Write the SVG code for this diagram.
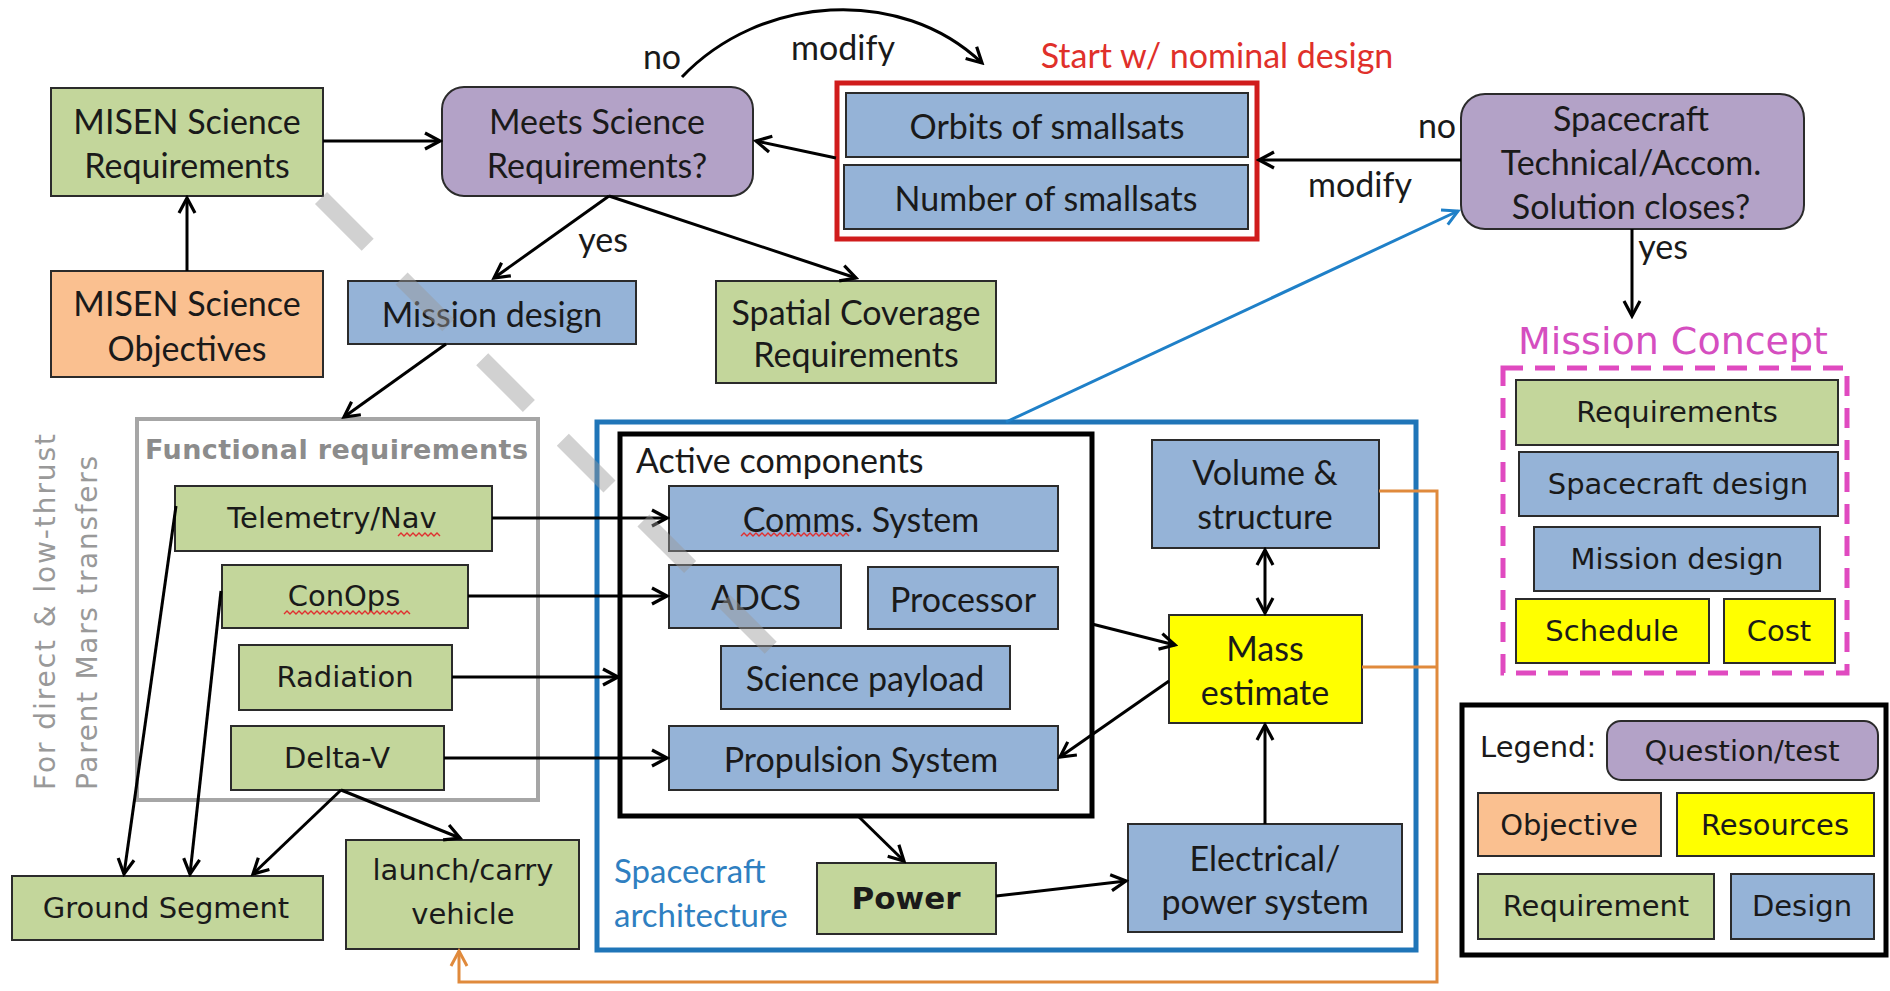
<svg xmlns="http://www.w3.org/2000/svg" width="1890" height="991" viewBox="0 0 1890 991">
<defs>
<marker id="ah" markerUnits="userSpaceOnUse" markerWidth="22" markerHeight="22" viewBox="0 0 22 22" refX="19" refY="11" orient="auto-start-reverse">
<path d="M4,3 L19,11 L4,19" fill="none" stroke="#000" stroke-width="3.2" stroke-linejoin="miter"/>
</marker>
<marker id="ahb" markerUnits="userSpaceOnUse" markerWidth="22" markerHeight="22" viewBox="0 0 22 22" refX="19" refY="11" orient="auto">
<path d="M4,3 L19,11 L4,19" fill="none" stroke="#1f80c8" stroke-width="3" />
</marker>
<marker id="aho" markerUnits="userSpaceOnUse" markerWidth="22" markerHeight="22" viewBox="0 0 22 22" refX="19" refY="11" orient="auto">
<path d="M4,3 L19,11 L4,19" fill="none" stroke="#e08a3c" stroke-width="3" />
</marker>
</defs>
<style>
text{fill:#1a1a1a;text-anchor:middle;dominant-baseline:central}
.c{font-family:Lato,"Liberation Sans",sans-serif;font-size:34px}
.t{font-family:"DejaVu Sans","Liberation Sans",sans-serif;font-size:29px}
.g{fill:#c3d69b;stroke:#2b2b2b;stroke-width:2}
.b{fill:#95b3d7;stroke:#2b2b2b;stroke-width:2}
.p{fill:#b3a2c7;stroke:#2b2b2b;stroke-width:2}
.o{fill:#fac090;stroke:#2b2b2b;stroke-width:2}
.y{fill:#ffff00;stroke:#2b2b2b;stroke-width:2}
.lab{text-anchor:start}
.sq{fill:none;stroke:#e03030;stroke-width:1.4}
</style>
<rect width="1890" height="991" fill="#fff"/>

<!-- containers -->
<g id="functional-requirements">
<rect x="137" y="419" width="401" height="381" fill="none" stroke="#a6a6a6" stroke-width="4"/>
<text x="145" y="449" class="lab" style="font-family:'DejaVu Sans',sans-serif;font-weight:bold;font-size:27px;fill:#8c8c8c" textLength="383">Functional requirements</text>
</g>
<g id="spacecraft-architecture">
<rect x="597" y="422" width="819" height="528" fill="none" stroke="#1f75b8" stroke-width="5"/>
<text x="614" y="870" class="c lab" style="fill:#2f7fc1;font-size:33px">Spacecraft</text>
<text x="614" y="914" class="c lab" style="fill:#2f7fc1;font-size:33px">architecture</text>
</g>
<g id="active-components">
<rect x="620" y="434" width="472" height="382" fill="none" stroke="#000" stroke-width="5"/>
<text x="636" y="459" class="c lab">Active components</text>
</g>
<g id="nominal-design">
<rect x="837" y="83" width="420" height="156" fill="none" stroke="#d01c1c" stroke-width="5"/>
<text x="1217" y="54" class="c" style="fill:#e0302a">Start w/ nominal design</text>
</g>
<g id="mission-concept">
<rect x="1503" y="368" width="344" height="305" fill="none" stroke="#e04ac0" stroke-width="5" stroke-dasharray="20 12"/>
<text x="1673" y="341" class="t" style="fill:#d54ec0;font-size:38px">Mission Concept</text>
</g>
<g id="legend">
<rect x="1462" y="705" width="424" height="250" fill="none" stroke="#000" stroke-width="5"/>
<text x="1480" y="747" class="t lab">Legend:</text>
</g>

<!-- nodes -->
<g id="misen-req"><rect x="51" y="88" width="272" height="108" class="g"/><text x="187" y="120" class="c">MISEN Science</text><text x="187" y="164" class="c">Requirements</text></g>
<g id="misen-obj"><rect x="51" y="271" width="272" height="106" class="o"/><text x="187" y="302" class="c">MISEN Science</text><text x="187" y="347" class="c">Objectives</text></g>
<g id="meets"><rect x="442" y="87" width="311" height="109" rx="22" class="p"/><text x="597" y="120" class="c">Meets Science</text><text x="597" y="164" class="c">Requirements?</text></g>
<g id="orbits"><rect x="846" y="93" width="402" height="64" class="b"/><text x="1047" y="125" class="c">Orbits of smallsats</text></g>
<g id="number"><rect x="844" y="165" width="404" height="64" class="b"/><text x="1046" y="197" class="c">Number of smallsats</text></g>
<g id="sc-closes"><rect x="1461" y="94" width="343" height="135" rx="24" class="p"/><text x="1631" y="117" class="c">Spacecraft</text><text x="1631" y="161" class="c">Technical/Accom.</text><text x="1631" y="205" class="c">Solution closes?</text></g>
<g id="mission-design"><rect x="348" y="281" width="288" height="63" class="b"/><text x="492" y="313" class="c">Mission design</text></g>
<g id="spatial"><rect x="716" y="281" width="280" height="102" class="g"/><text x="856" y="311" class="c">Spatial Coverage</text><text x="856" y="353" class="c">Requirements</text></g>
<g id="telemetry"><rect x="175" y="486" width="317" height="65" class="g"/><text x="332" y="518" class="t">Telemetry/Nav</text><path class="sq" d="M398,536 l3,-3 l3,3 l3,-3 l3,3 l3,-3 l3,3 l3,-3 l3,3 l3,-3 l3,3 l3,-3 l3,3 l3,-3 l3,3"/></g>
<g id="conops"><rect x="222" y="565" width="246" height="63" class="g"/><text x="344" y="596" class="t">ConOps</text><path class="sq" d="M284,614 l3,-3 l3,3 l3,-3 l3,3 l3,-3 l3,3 l3,-3 l3,3 l3,-3 l3,3 l3,-3 l3,3 l3,-3 l3,3 l3,-3 l3,3 l3,-3 l3,3 l3,-3 l3,3 l3,-3 l3,3 l3,-3 l3,3 l3,-3 l3,3 l3,-3 l3,3 l3,-3 l3,3 l3,-3 l3,3 l3,-3 l3,3 l3,-3 l3,3 l3,-3 l3,3 l3,-3 l3,3 l3,-3 l3,3"/></g>
<g id="radiation"><rect x="239" y="645" width="213" height="65" class="g"/><text x="345" y="677" class="t">Radiation</text></g>
<g id="delta-v"><rect x="231" y="726" width="213" height="64" class="g"/><text x="337" y="758" class="t">Delta-V</text></g>
<g id="ground"><rect x="12" y="876" width="311" height="64" class="g"/><text x="166" y="908" class="t">Ground Segment</text></g>
<g id="launch"><rect x="346" y="840" width="233" height="109" class="g"/><text x="463" y="870" class="t">launch/carry</text><text x="463" y="914" class="t">vehicle</text></g>
<g id="comms"><rect x="669" y="486" width="389" height="65" class="b"/><text x="861" y="518" class="c">Comms. System</text><path class="sq" d="M741,536 l3,-3 l3,3 l3,-3 l3,3 l3,-3 l3,3 l3,-3 l3,3 l3,-3 l3,3 l3,-3 l3,3 l3,-3 l3,3 l3,-3 l3,3 l3,-3 l3,3 l3,-3 l3,3 l3,-3 l3,3 l3,-3 l3,3 l3,-3 l3,3 l3,-3 l3,3 l3,-3 l3,3 l3,-3 l3,3 l3,-3 l3,3 l3,-3 l3,3"/></g>
<g id="adcs"><rect x="669" y="565" width="172" height="63" class="b"/><text x="756" y="596" class="c">ADCS</text></g>
<g id="processor"><rect x="868" y="567" width="190" height="62" class="b"/><text x="963" y="598" class="c">Processor</text></g>
<g id="payload"><rect x="721" y="646" width="289" height="63" class="b"/><text x="865" y="677" class="c">Science payload</text></g>
<g id="propulsion"><rect x="669" y="726" width="389" height="64" class="b"/><text x="861" y="758" class="c">Propulsion System</text></g>
<g id="volume"><rect x="1152" y="440" width="227" height="108" class="b"/><text x="1265" y="471" class="c">Volume &amp;</text><text x="1265" y="515" class="c">structure</text></g>
<g id="mass"><rect x="1169" y="615" width="193" height="108" class="y"/><text x="1265" y="647" class="c">Mass</text><text x="1265" y="691" class="c">estimate</text></g>
<g id="electrical"><rect x="1128" y="824" width="274" height="108" class="b"/><text x="1265" y="857" class="c">Electrical/</text><text x="1265" y="900" class="c">power system</text></g>
<g id="power"><rect x="817" y="863" width="179" height="71" class="g"/><text x="906" y="898" class="t" style="font-weight:bold;font-size:31px">Power</text></g>

<g id="mc-requirements"><rect x="1516" y="380" width="322" height="65" class="g"/><text x="1677" y="412" class="t">Requirements</text></g>
<g id="mc-spacecraft"><rect x="1519" y="452" width="319" height="64" class="b"/><text x="1678" y="484" class="t">Spacecraft design</text></g>
<g id="mc-mission"><rect x="1534" y="527" width="286" height="64" class="b"/><text x="1677" y="559" class="t">Mission design</text></g>
<g id="mc-schedule"><rect x="1516" y="599" width="193" height="64" class="y"/><text x="1612" y="631" class="t">Schedule</text></g>
<g id="mc-cost"><rect x="1724" y="599" width="111" height="64" class="y"/><text x="1779" y="631" class="t">Cost</text></g>

<g id="lg-question"><rect x="1607" y="721" width="271" height="59" rx="14" class="p"/><text x="1742" y="751" class="t">Question/test</text></g>
<g id="lg-objective"><rect x="1478" y="793" width="183" height="63" class="o"/><text x="1569" y="825" class="t">Objective</text></g>
<g id="lg-resources"><rect x="1677" y="793" width="197" height="63" class="y"/><text x="1775" y="825" class="t">Resources</text></g>
<g id="lg-requirement"><rect x="1478" y="874" width="236" height="65" class="g"/><text x="1596" y="906" class="t">Requirement</text></g>
<g id="lg-design"><rect x="1731" y="874" width="143" height="65" class="b"/><text x="1802" y="906" class="t">Design</text></g>

<!-- side label -->
<g id="side-label" style="font-family:'DejaVu Sans',sans-serif;font-size:28px">
<text transform="translate(45,790) rotate(-90)" x="0" y="0" class="lab" style="fill:#999" textLength="356">For direct  &amp; low-thrust</text>
<text transform="translate(87,790) rotate(-90)" x="0" y="0" class="lab" style="fill:#999" textLength="334">Parent Mars transfers</text>
</g>

<!-- connectors -->
<g id="connectors" fill="none" stroke="#000" stroke-width="3">
<line x1="187" y1="271" x2="187" y2="198" marker-end="url(#ah)"/>
<line x1="323" y1="141" x2="440" y2="141" marker-end="url(#ah)"/>
<path d="M682,77 C760,-5 900,-15 982,63" marker-end="url(#ah)"/>
<line x1="836" y1="158" x2="756" y2="141" marker-end="url(#ah)"/>
<line x1="1461" y1="160" x2="1259" y2="160" marker-end="url(#ah)"/>
<line x1="1632" y1="229" x2="1632" y2="316" marker-end="url(#ah)"/>
<line x1="609" y1="196" x2="494" y2="278" marker-end="url(#ah)"/>
<line x1="609" y1="196" x2="856" y2="278" marker-end="url(#ah)"/>
<line x1="446" y1="344" x2="344" y2="417" marker-end="url(#ah)"/>
<line x1="492" y1="518" x2="667" y2="518" marker-end="url(#ah)"/>
<line x1="468" y1="596" x2="667" y2="596" marker-end="url(#ah)"/>
<line x1="452" y1="677" x2="618" y2="677" marker-end="url(#ah)"/>
<line x1="444" y1="758" x2="667" y2="758" marker-end="url(#ah)"/>
<line x1="176" y1="506" x2="124" y2="874" marker-end="url(#ah)"/>
<line x1="221" y1="591" x2="190" y2="874" marker-end="url(#ah)"/>
<line x1="341" y1="790" x2="253" y2="874" marker-end="url(#ah)"/>
<line x1="341" y1="790" x2="460" y2="838" marker-end="url(#ah)"/>
<line x1="858" y1="816" x2="904" y2="861" marker-end="url(#ah)"/>
<line x1="996" y1="896" x2="1126" y2="881" marker-end="url(#ah)"/>
<line x1="1092" y1="624" x2="1175" y2="645" marker-end="url(#ah)"/>
<line x1="1169" y1="681" x2="1060" y2="757" marker-end="url(#ah)"/>
<line x1="1265" y1="824" x2="1265" y2="725" marker-end="url(#ah)"/>
<line x1="1265" y1="550" x2="1265" y2="613" marker-start="url(#ah)" marker-end="url(#ah)"/>
<line x1="1006" y1="422" x2="1458" y2="211" stroke="#1f80c8" marker-end="url(#ahb)"/>
<polyline points="1379,491 1437,491 1437,982 459,982 459,951" stroke="#e08a3c" marker-end="url(#aho)"/>
<line x1="1362" y1="667" x2="1437" y2="667" stroke="#e08a3c"/>
</g>
<g id="connector-labels">
<text x="662" y="55" class="c">no</text>
<text x="843" y="46" class="c">modify</text>
<text x="603" y="238" class="c">yes</text>
<text x="1437" y="124" class="c">no</text>
<text x="1360" y="183" class="c">modify</text>
<text x="1663" y="245" class="c">yes</text>
</g>

<!-- faint watermark -->
<line x1="321" y1="198" x2="800" y2="677" stroke="#9a9a9a" stroke-width="17" stroke-dasharray="66 48" opacity="0.45"/>
</svg>
